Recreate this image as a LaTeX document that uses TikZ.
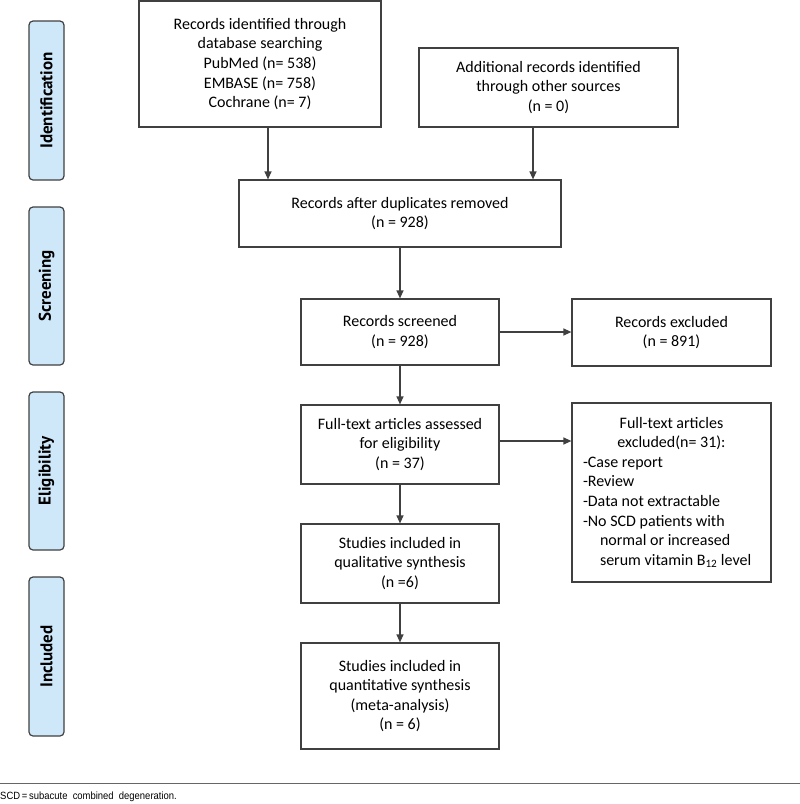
\documentclass[tikz,border=0pt]{standalone}
\usepackage{fontspec}
\setmainfont{Carlito}
\newfontfamily\stagefont{PT Sans}
\newfontfamily\notefont[FakeStretch=0.9]{Liberation Sans}
\usetikzlibrary{arrows.meta,positioning,calc}

\definecolor{linegray}{RGB}{64,64,64}
\definecolor{stageblue}{RGB}{206,232,250}

\tikzset{
  flowbox/.style={draw=linegray, line width=1.2pt, align=center, inner sep=0pt,
                  font=\fontsize{16}{19.6}\selectfont},
  stagebox/.style={draw=linegray, line width=1.2pt, fill=stageblue, rounded corners=4pt,
                   rotate=90, minimum height=35pt, inner sep=0pt,
                   font=\stagefont\bfseries\fontsize{17}{19}\selectfont},
  arr/.style={draw=linegray, line width=1.2pt, -{Triangle[length=8pt,width=7pt]}}
}

\begin{document}
\begin{tikzpicture}[x=1pt,y=-1pt]
    \useasboundingbox (0,0) rectangle (800,804);

    % phase labels on the left
    \node[stagebox, minimum width=159pt] (identification) at (46.5,100.5) {Identification};
    \node[stagebox, minimum width=158pt] (screening) at (46.5,286) {Screening};
    \node[stagebox, minimum width=158pt] (eligibility) at (46.5,471) {Eligibility};
    \node[stagebox, minimum width=159pt] (included) at (46.5,656.5) {Included};

    % flow boxes
    \node[flowbox, minimum width=242pt, minimum height=126pt] (ident) at (260,64)
      {Records identified through\\database searching\\PubMed (n= 538)\\EMBASE (n= 758)\\Cochrane (n= 7)};
    \node[flowbox, minimum width=259pt, minimum height=79pt] (other) at (548.5,87.5)
      {Additional records identified\\through other sources\\(n = 0)};
    \node[flowbox, minimum width=322pt, minimum height=67pt] (dedup) at (400,213.5)
      {Records after duplicates removed\\(n = 928)};
    \node[flowbox, minimum width=198pt, minimum height=66pt] (screened) at (400,332)
      {Records screened\\(n = 928)};
    \node[flowbox, minimum width=199pt, minimum height=67pt] (excluded) at (671.5,332.5)
      {Records excluded\\(n = 891)};
    \node[flowbox, minimum width=198pt, minimum height=79pt] (fulltext) at (400,444.5)
      {Full-text articles assessed\\for eligibility\\(n = 37)};
    \node[flowbox, minimum width=199pt, minimum height=179pt, text width=177pt, align=flush left] (ftexcl) at (671.5,492.5)
      {\makebox[\linewidth][c]{Full-text articles}\\
       \makebox[\linewidth][c]{excluded(n= 31):}\\
       -Case report\\
       -Review\\
       -Data not extractable\\
       -No SCD patients with\\
       \hspace*{17pt}normal or increased\\
       \hspace*{17pt}serum vitamin B\textsubscript{12} level};
    \node[flowbox, minimum width=198pt, minimum height=79pt] (qual) at (400,563.5)
      {Studies included in\\qualitative synthesis\\(n =6)};
    \node[flowbox, minimum width=198pt, minimum height=106pt] (quant) at (400,696)
      {Studies included in\\quantitative synthesis\\(meta-analysis)\\(n = 6)};

    % connectors
    \draw[arr] ([xshift=8pt]ident.south) -- ([xshift=8pt]ident.south |- dedup.north);
    \draw[arr] ([xshift=-15.5pt]other.south) -- ([xshift=-15.5pt]other.south |- dedup.north);
    \draw[arr] (dedup.south) -- (screened.north);
    \draw[arr] (screened.east) -- (screened.east -| excluded.west);
    \draw[arr] (screened.south) -- (fulltext.north);
    \draw[arr] ([yshift=3.5pt]fulltext.east) -- ([yshift=3.5pt]fulltext.east -| ftexcl.west);
    \draw[arr] (fulltext.south) -- (qual.north);
    \draw[arr] (qual.south) -- (quant.north);

    % footnote
    \draw[linegray!80, line width=0.9pt] (0,783) -- (800,783);
    \node[anchor=west, inner sep=0pt, font=\notefont\fontsize{10.5}{11}\selectfont] (note) at (0,797)
      {SCD\,=\,subacute\ \ combined\ \ degeneration.};
  \end{tikzpicture}
\end{document}
